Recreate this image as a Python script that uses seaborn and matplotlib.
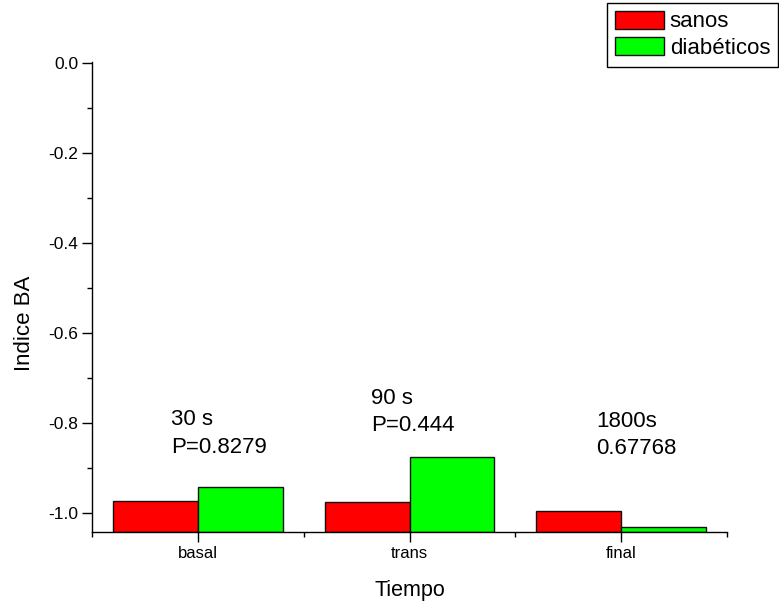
import matplotlib
matplotlib.use("Agg")
import matplotlib.pyplot as plt
from matplotlib.ticker import MultipleLocator, FixedLocator, FormatStrFormatter
import pandas as pd
import seaborn as sns

# Índice BA por momento de medida y grupo
tiempos = ["basal", "trans", "final"]
grupos = ["sanos", "diabéticos"]
sanos = [-0.973, -0.975, -0.996]
diabeticos = [-0.943, -0.875, -1.031]
colores = ["#ff0000", "#00ff00"]

# Anotaciones por momento: duración y valor P
notas_linea1 = ["30 s", "90 s", "1800s"]
notas_linea2 = ["P=0.8279", "P=0.444", "0.67768"]

df = pd.DataFrame({
    "Tiempo": tiempos * 2,
    "Indice": sanos + diabeticos,
    "grupo": [grupos[0]] * 3 + [grupos[1]] * 3,
})

sns.set_style("ticks")
plt.rcParams["font.family"] = ["Liberation Sans", "DejaVu Sans"]
plt.rcParams["axes.unicode_minus"] = False
for k in ["text.color", "axes.labelcolor", "xtick.color", "ytick.color",
          "axes.edgecolor"]:
    plt.rcParams[k] = "black"

fig = plt.figure(figsize=(7.79, 6.05), dpi=100)
ax = fig.add_axes([0.1185, 0.1212, 0.8144, 0.7763])

y_min, y_max = -1.042, 0.003

sns.barplot(data=df, x="Tiempo", y="Indice", hue="grupo", order=tiempos,
            hue_order=grupos, palette=colores, saturation=1, errorbar=None,
            edgecolor="#111111", linewidth=1.0, width=0.8, ax=ax)

# las barras crecen desde el borde inferior del eje, no desde cero
for cont in ax.containers:
    for bar in cont:
        v = bar.get_y() + bar.get_height()
        bar.set_y(y_min)
        bar.set_height(v - y_min)

ax.set_xlim(-0.5, 2.5)
ax.set_ylim(y_min, y_max)

ax.yaxis.set_major_locator(MultipleLocator(0.2))
ax.yaxis.set_minor_locator(MultipleLocator(0.1))
ax.yaxis.set_major_formatter(FormatStrFormatter("%.1f"))
ax.xaxis.set_minor_locator(FixedLocator([-0.5, 0.5, 1.5, 2.5]))

for s in ["top", "right"]:
    ax.spines[s].set_visible(False)
for s in ["left", "bottom"]:
    ax.spines[s].set_linewidth(1.0)
    ax.spines[s].set_color("black")

ax.tick_params(axis="both", which="major", direction="out", length=7,
               width=1.0, color="black", labelcolor="black", labelsize=12.5, pad=3)
ax.tick_params(axis="both", which="minor", direction="out", length=3.6,
               width=1.0, color="black")
ax.tick_params(axis="x", which="major", labelsize=12)

ax.set_xlabel("Tiempo", fontsize=15.5, color="black")
ax.set_ylabel("Indice BA", fontsize=16, color="black")
ax.xaxis.set_label_coords(0.5, -0.103)
ax.yaxis.set_label_coords(-0.091, 0.443)

# textos sobre cada grupo
pos_x = [-0.129, 0.817, 1.882]
pos_y1 = [-0.805, -0.757, -0.810]
pos_y2 = [-0.868, -0.818, -0.870]
for i in range(3):
    ax.text(pos_x[i], pos_y1[i], notas_linea1[i], fontsize=16, va="baseline",
            ha="left", color="black")
    ax.text(pos_x[i], pos_y2[i], notas_linea2[i], fontsize=16, va="baseline",
            ha="left", color="black")

leg = ax.get_legend()
handles = leg.legend_handles
labels = [t.get_text() for t in leg.get_texts()]
leg.remove()
for h in handles:
    h.set_edgecolor("#111111")
    h.set_linewidth(1.0)

fl = fig.legend(handles, labels, loc="upper right",
                bbox_to_anchor=(778 / 779, 1 - 3 / 605),
                fontsize=16, frameon=True, fancybox=False, framealpha=1,
                edgecolor="black", borderaxespad=0, borderpad=0.35,
                handlelength=2.2, handleheight=0.86, handletextpad=0.27,
                labelspacing=0.22, labelcolor="black")
fl.get_frame().set_linewidth(1.0)

fig.savefig("out.png", dpi=100)
